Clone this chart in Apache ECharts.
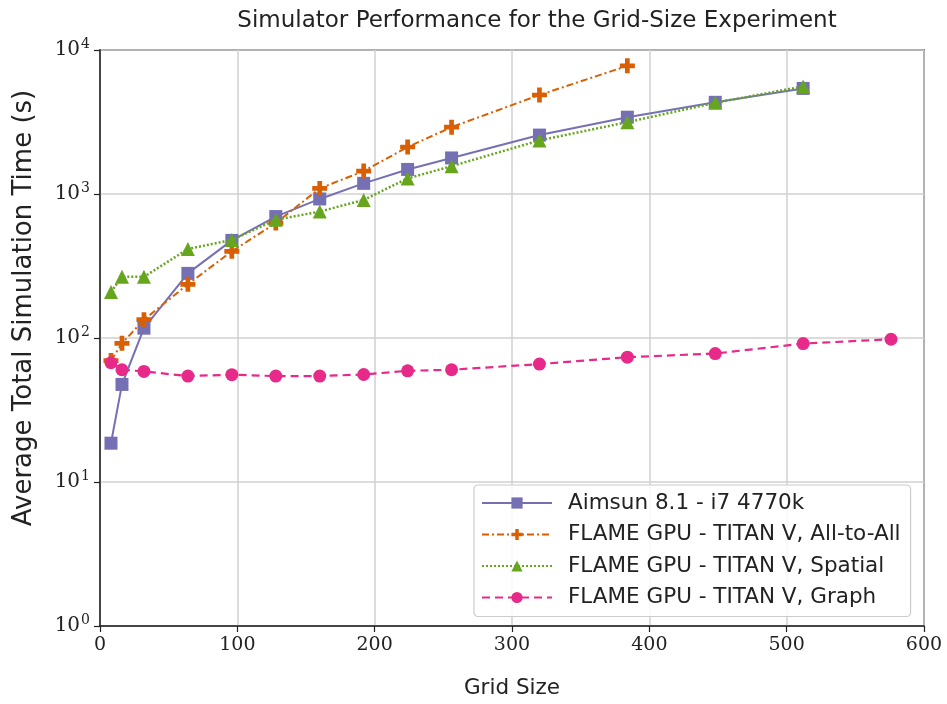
<!DOCTYPE html>
<html>
<head>
<meta charset="utf-8">
<script src="https://cdn.jsdelivr.net/npm/echarts@6/dist/echarts.min.js"></script>
<style>html,body{margin:0;padding:0;background:#fff;}#c{width:947px;height:704px;}</style>
</head>
<body>
<div id="c"></div>
<script>
var gridSizes = [8, 16, 32, 64, 96, 128, 160, 192, 224, 256, 320, 384, 448, 512, 576];
var aimsun = [18.6, 47.6, 117, 281, 476, 697, 924, 1186, 1481, 1780, 2565, 3415, 4332, 5410];
var allToAll = [69.7, 91.9, 134, 236, 400, 628, 1094, 1442, 2120, 2912, 4868, 7760];
var spatial = [209, 266, 266, 415, 480, 662, 755, 910, 1283, 1560, 2356, 3155, 4300, 5587];
var graph = [67.3, 60.2, 58.6, 54.4, 55.6, 54.4, 54.4, 55.8, 59.2, 60.2, 65.9, 73.6, 78.0, 91.5, 98.0];
var seriesNames = ['Aimsun 8.1 - i7 4770k', 'FLAME GPU - TITAN V, All-to-All', 'FLAME GPU - TITAN V, Spatial', 'FLAME GPU - TITAN V, Graph'];
var xTicks = [0, 100, 200, 300, 400, 500, 600];
var titleText = 'Simulator Performance for the Grid-Size Experiment';
var xName = 'Grid Size';
var yName = 'Average Total Simulation Time (s)';

function pairs(vals) {
  var out = [];
  for (var i = 0; i < vals.length; i++) out.push([gridSizes[i], vals[i]]);
  return out;
}
var plusPath = 'path://M-1,-3.2 L1,-3.2 L1,-1 L3.2,-1 L3.2,1 L1,1 L1,3.2 L-1,3.2 L-1,1 L-3.2,1 L-3.2,-1 L-1,-1 Z';
var colors = ['#7570b3', '#d95f02', '#66a61e', '#e7298a'];
var sansFont = 'DejaVu Sans';
var serifFont = 'DejaVu Serif';

var chart = echarts.init(document.getElementById('c'), null, {renderer: 'canvas'});
chart.setOption({
  animation: false,
  backgroundColor: '#fff',
  title: {
    text: titleText,
    left: 532, top: 5, textAlign: 'center',
    textStyle: {fontFamily: sansFont, fontSize: 23, fontWeight: 'normal', color: '#222'}
  },
  graphic: [{
    type: 'text', x: 24, y: 308, rotation: Math.PI / 2,
    style: {text: yName, fontFamily: sansFont, fontSize: 26, fill: '#222', textAlign: 'center', textVerticalAlign: 'middle'}
  }],
  grid: {left: 100, right: 23, top: 50, bottom: 74, show: true, borderColor: '#222', borderWidth: 1.5, backgroundColor: 'transparent'},
  xAxis: {
    type: 'value', min: 0, max: 600, interval: 100,
    name: xName, nameLocation: 'middle', nameGap: 51,
    nameTextStyle: {fontFamily: sansFont, fontSize: 21.5, color: '#222'},
    axisLine: {show: true, onZero: false, lineStyle: {color: '#222', width: 1.5}},
    axisTick: {show: true, length: 6, lineStyle: {color: '#222', width: 1.2}},
    axisLabel: {fontFamily: serifFont, fontSize: 19, color: '#222', margin: 10,
      formatter: function (v) { return xTicks.indexOf(v) >= 0 ? String(v) : ''; }},
    splitLine: {show: true, lineStyle: {color: '#d0d0d0', width: 1.5}}
  },
  yAxis: {
    type: 'log', logBase: 10, min: 1, max: 10000,
    axisLine: {show: true, lineStyle: {color: '#222', width: 1.5}},
    axisTick: {show: true, length: 6, lineStyle: {color: '#222', width: 1.2}},
    minorTick: {show: false},
    axisLabel: {
      margin: 10,
      formatter: function (v) { var e = Math.round(Math.log(v) / Math.LN10); return '{b|10}{s|' + e + '}'; },
      rich: {
        b: {fontFamily: serifFont, fontSize: 20, color: '#222'},
        s: {fontFamily: serifFont, fontSize: 14, color: '#222', padding: [0, 0, 12, 1]}
      }
    },
    splitLine: {show: true, lineStyle: {color: '#d0d0d0', width: 1.5}}
  },
  legend: {
    orient: 'vertical', left: 474, top: 485,
    padding: [7, 10, 8, 7],
    itemWidth: 70, itemHeight: 14, itemGap: 9.5,
    backgroundColor: 'rgba(255,255,255,0.85)', borderColor: '#cccccc', borderWidth: 1.2, borderRadius: 4,
    textStyle: {fontFamily: sansFont, fontSize: 21.5, lineHeight: 22, color: '#222', padding: [0, 0, 0, 11]},
    data: seriesNames
  },
  series: [
    {name: seriesNames[0], type: 'line', data: pairs(aimsun), symbol: 'rect', symbolSize: 13,
     itemStyle: {color: colors[0]}, lineStyle: {color: colors[0], width: 2, type: 'solid'}, z: 3},
    {name: seriesNames[1], type: 'line', data: pairs(allToAll), symbol: plusPath, symbolSize: 15,
     itemStyle: {color: colors[1]}, lineStyle: {color: colors[1], width: 2, type: [7, 3, 2, 3]}, z: 4},
    {name: seriesNames[2], type: 'line', data: pairs(spatial), symbol: 'triangle', symbolSize: 14,
     itemStyle: {color: colors[2]}, lineStyle: {color: colors[2], width: 2.5, type: [2, 2]}, z: 5},
    {name: seriesNames[3], type: 'line', data: pairs(graph), symbol: 'circle', symbolSize: 13,
     itemStyle: {color: colors[3]}, lineStyle: {color: colors[3], width: 2.2, type: [8, 5]}, z: 6}
  ]
});
</script>
</body>
</html>
